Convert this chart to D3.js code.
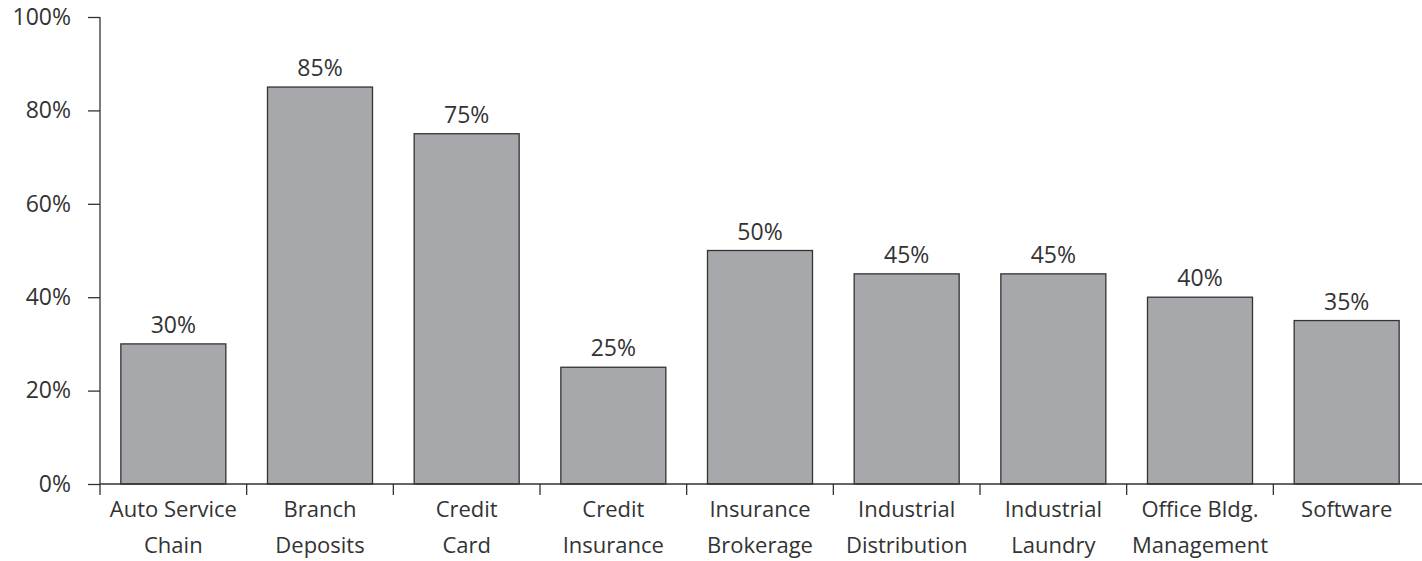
<!DOCTYPE html>
<html>
<head>
<meta charset="utf-8">
<script src="https://cdn.jsdelivr.net/npm/d3@7"></script>
<style>
  html, body { margin: 0; padding: 0; background: #fff; }
  svg text { font-family: "Open Sans", "Noto Sans", sans-serif; fill: #333; }
</style>
</head>
<body>
<svg id="chart" width="1422" height="561"></svg>
<script>
// Category names, split into display lines
const categories = [
  "Auto Service Chain", "Branch Deposits", "Credit Card", "Credit Insurance",
  "Insurance Brokerage", "Industrial Distribution", "Industrial Laundry",
  "Office Bldg. Management", "Software"
];
const categoryLines = [
  ["Auto Service", "Chain"], ["Branch", "Deposits"], ["Credit", "Card"],
  ["Credit", "Insurance"], ["Insurance", "Brokerage"], ["Industrial", "Distribution"],
  ["Industrial", "Laundry"], ["Office Bldg.", "Management"], ["Software"]
];
// Share per category, in percent
const values = [30, 85, 75, 25, 50, 45, 45, 40, 35];
const yTicks = [0, 20, 40, 60, 80, 100];

const svg = d3.select("#chart");
const plotLeft = 100, plotRight = 1420, plotTop = 17, plotBottom = 484;

const x = d3.scaleBand().domain(categories).range([plotLeft, plotRight])
  .paddingInner(0.284).paddingOuter(0.142);
const y = d3.scaleLinear().domain([0, 100]).range([plotBottom, plotTop]);

const axisColor = "#333";
const numberSize = 23, labelSize = 22;

// Bars
svg.append("g").selectAll("rect")
  .data(categories)
  .join("rect")
  .attr("x", d => x(d))
  .attr("y", (d, i) => y(values[i]))
  .attr("width", x.bandwidth())
  .attr("height", (d, i) => y(0) - y(values[i]))
  .attr("fill", "#a7a8ab")
  .attr("stroke", "#333")
  .attr("stroke-width", 1.3);

// Value labels
svg.append("g").selectAll("text")
  .data(categories)
  .join("text")
  .attr("x", d => x(d) + x.bandwidth() / 2)
  .attr("y", (d, i) => y(values[i]) - 11)
  .attr("text-anchor", "middle")
  .attr("font-size", numberSize)
  .text((d, i) => values[i] + "%");

// Y axis
const yAxis = svg.append("g").attr("transform", `translate(${plotLeft},0)`)
  .call(d3.axisLeft(y).tickValues(yTicks).tickFormat(d => d + "%").tickSize(12).tickPadding(17));
yAxis.select(".domain").remove();
yAxis.selectAll(".tick line").attr("stroke", axisColor).attr("stroke-width", 1.3);
yAxis.selectAll(".tick text").attr("font-size", numberSize).attr("fill", "#333")
  .style("font-family", '"Open Sans", "Noto Sans", sans-serif');
svg.append("line")
  .attr("x1", plotLeft).attr("x2", plotLeft).attr("y1", y(100)).attr("y2", plotBottom + 11)
  .attr("stroke", axisColor).attr("stroke-width", 1.3);

// X axis baseline and band-boundary ticks
svg.append("line")
  .attr("x1", plotLeft).attr("x2", 1422).attr("y1", plotBottom).attr("y2", plotBottom)
  .attr("stroke", axisColor).attr("stroke-width", 1.3);
const step = x.step();
const boundaries = d3.range(1, categories.length).map(i => plotLeft + i * step);
svg.append("g").selectAll("line")
  .data(boundaries)
  .join("line")
  .attr("x1", d => d).attr("x2", d => d)
  .attr("y1", plotBottom).attr("y2", plotBottom + 11)
  .attr("stroke", axisColor).attr("stroke-width", 1.3);

// Category labels
const catG = svg.append("g").selectAll("text")
  .data(categories)
  .join("text")
  .attr("x", d => x(d) + x.bandwidth() / 2)
  .attr("y", 517)
  .attr("text-anchor", "middle")
  .attr("font-size", labelSize);
catG.each(function(d, i) {
  const t = d3.select(this);
  categoryLines[i].forEach((line, j) => {
    t.append("tspan")
      .attr("x", x(d) + x.bandwidth() / 2)
      .attr("dy", j === 0 ? 0 : 36)
      .text(line);
  });
});
</script>
</body>
</html>
